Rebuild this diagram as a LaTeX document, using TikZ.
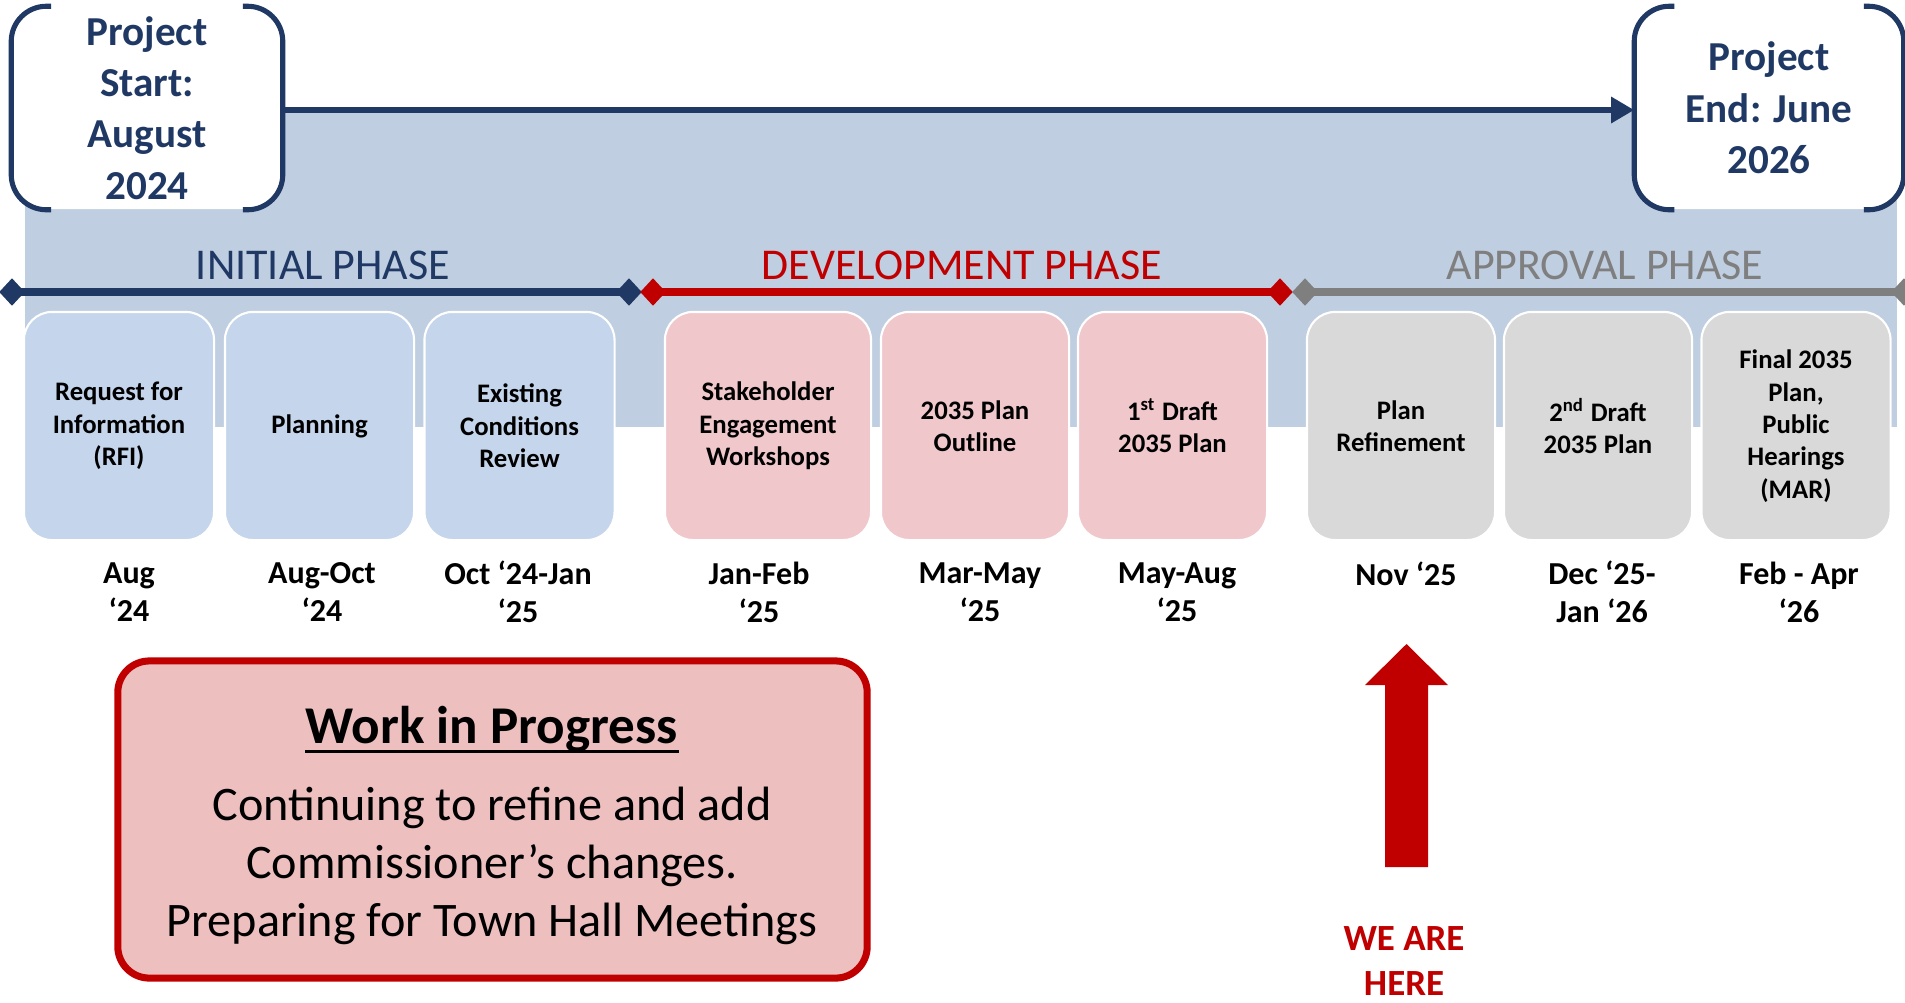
\documentclass[tikz,border=0pt]{standalone}
\usepackage{fontspec}
\setmainfont{Carlito}
\usetikzlibrary{shapes.geometric,arrows.meta}
\definecolor{navy}{HTML}{1F3864}
\definecolor{darkred}{HTML}{C00000}
\definecolor{midgray}{HTML}{7F7F7F}
\definecolor{bgblue}{HTML}{BFCEE0}
\definecolor{boxblue}{HTML}{C4D5EC}
\definecolor{boxpink}{HTML}{F0C8CC}
\definecolor{boxgray}{HTML}{D9D9D9}
\definecolor{wipfill}{HTML}{EDBFBF}
\begin{document}
\begin{tikzpicture}[x=0.01cm,y=-0.01cm,
  projbox/.style={fill=white, rounded corners=10pt, minimum width=2.70cm, minimum height=2.02cm,
    inner sep=0pt, align=center, text=navy, font=\fontsize{11.7pt}{14.6pt}\selectfont\bfseries},
  bracket/.style={draw=navy, line width=1.45pt, rounded corners=10pt},
  task/.style={rounded corners=8pt, draw=white, line width=0.6pt, minimum height=2.28cm,
    minimum width=1.89cm, inner sep=2pt, align=center, font=\fontsize{7.6pt}{9.2pt}\selectfont\bfseries},
  datel/.style={align=center, inner sep=0pt, font=\fontsize{9.1pt}{10.8pt}\selectfont\bfseries},
  phase/.style={anchor=base, inner sep=0pt, font=\fontsize{12.5pt}{14pt}\selectfont},
  gem/.style={diamond, inner sep=0pt, minimum width=0.26cm, minimum height=0.28cm},
  pline/.style={line width=2pt},
  wipbox/.style={draw=darkred, fill=wipfill, line width=2pt, rounded corners=9pt,
    minimum width=7.49cm, minimum height=3.17cm},
  wiptitle/.style={anchor=base, inner sep=0pt, font=\fontsize{15.1pt}{17pt}\selectfont\bfseries},
  wipbody/.style={align=center, inner sep=0pt, font=\fontsize{13.7pt}{16.4pt}\selectfont},
  here/.style={align=center, inner sep=0pt, text=darkred, font=\fontsize{10.5pt}{12.8pt}\selectfont\bfseries}
]
\useasboundingbox (0,0) rectangle (1905,1002);

% background band
\fill[bgblue] (25,110) rectangle (1897,427);

% project start / end
\node[projbox] (start) at (147,108) {Project\\Start:\\August\\2024};
\node[projbox, minimum width=2.68cm] (end) at (1769,108) {Project\\End: June\\2026};
\draw[bracket] ([xshift=0.40cm]start.north west) -- (start.north west) -- (start.south west) -- ([xshift=0.40cm]start.south west);
\draw[bracket] ([xshift=-0.40cm]start.north east) -- (start.north east) -- (start.south east) -- ([xshift=-0.40cm]start.south east);
\draw[bracket] ([xshift=0.40cm]end.north west) -- (end.north west) -- (end.south west) -- ([xshift=0.40cm]end.south west);
\draw[bracket] ([xshift=-0.40cm]end.north east) -- (end.north east) -- (end.south east) -- ([xshift=-0.40cm]end.south east);
\draw[navy, line width=1.7pt, -{Triangle[length=0.23cm, width=0.25cm]}] ([yshift=-0.02cm]start.east) -- ([yshift=-0.02cm]end.west);

% phase labels
\node[phase, text=navy] (pinit) at (323,279) {INITIAL PHASE};
\node[phase, text=darkred] (pdev) at (962,279) {DEVELOPMENT PHASE};
\node[phase, text=midgray] (papp) at (1605,279) {APPROVAL PHASE};

% phase lines
\coordinate (i1) at (12,292);
\coordinate (i2) at (629,292);
\coordinate (v1) at (653,292);
\coordinate (v2) at (1280,292);
\coordinate (a1) at (1305,292);
\coordinate (a2) at (1904,292);
\draw[pline, navy] (i1) -- (i2);
\draw[pline, darkred] (v1) -- (v2);
\draw[pline, midgray] (a1) -- (a2);
\node[gem, fill=navy] (gi1) at (i1) {};
\node[gem, fill=navy] (gi2) at (i2) {};
\node[gem, fill=darkred] (gv1) at (v1) {};
\node[gem, fill=darkred] (gv2) at (v2) {};
\node[gem, fill=midgray] (ga1) at (a1) {};
\node[gem, fill=midgray] (ga2) at (a2) {};

% task boxes
\node[task, fill=boxblue, minimum width=1.90cm] (t1) at (119,426) {Request for\\Information\\(RFI)};
\node[task, fill=boxblue] (t2) at (319.5,426) {Planning};
\node[task, fill=boxblue, minimum width=1.90cm] (t3) at (519.5,426) {Existing\\Conditions\\Review};
\node[task, fill=boxpink, minimum width=2.06cm] (t4) at (768,426) {Stakeholder\\Engagement\\Workshops};
\node[task, fill=boxpink, minimum width=1.88cm] (t5) at (975,426) {2035 Plan\\Outline};
\node[task, fill=boxpink] (t6) at (1172.5,426) {1\textsuperscript{st} Draft\\2035 Plan};
\node[task, fill=boxgray, minimum width=1.88cm] (t7) at (1401,426) {Plan\\Refinement};
\node[task, fill=boxgray, minimum width=1.88cm] (t8) at (1598,426) {2\textsuperscript{nd} Draft\\2035 Plan};
\node[task, fill=boxgray] (t9) at (1796,426) {Final 2035\\Plan,\\Public\\Hearings\\(MAR)};

% dates
\node[datel] (d1) at (129,592) {Aug\\‘24};
\node[datel] (d2) at (322,592) {Aug-Oct\\‘24};
\node[datel] (d3) at (518,592) {Oct ‘24-Jan\\‘25};
\node[datel] (d4) at (759,592) {Jan-Feb\\‘25};
\node[datel] (d5) at (980,592) {Mar-May\\‘25};
\node[datel] (d6) at (1177,592) {May-Aug\\‘25};
\node[datel] (d7) at (1406,574) {Nov ‘25};
\node[datel] (d8) at (1602,592) {Dec ‘25-\\Jan ‘26};
\node[datel] (d9) at (1799,592) {Feb - Apr\\‘26};

% work in progress
\node[wipbox] (wip) at (492.5,819.5) {};
\node[wiptitle] (wipt) at (492,743) {Work in Progress};
\draw[line width=0.85pt] ([yshift=-0.08cm]wipt.base west) -- ([yshift=-0.08cm]wipt.base east);
\node[wipbody] (wipb) at (492,866) {Continuing to refine and add\\Commissioner’s changes.\\Preparing for Town Hall Meetings};

% we are here
\fill[darkred] (1385,867) -- (1385,685) -- (1365,685) -- (1406.5,644) -- (1448,685) -- (1428,685) -- (1428,867) -- cycle;
\node[here] (here) at (1404,961) {WE ARE\\HERE};
\end{tikzpicture}
\end{document}
